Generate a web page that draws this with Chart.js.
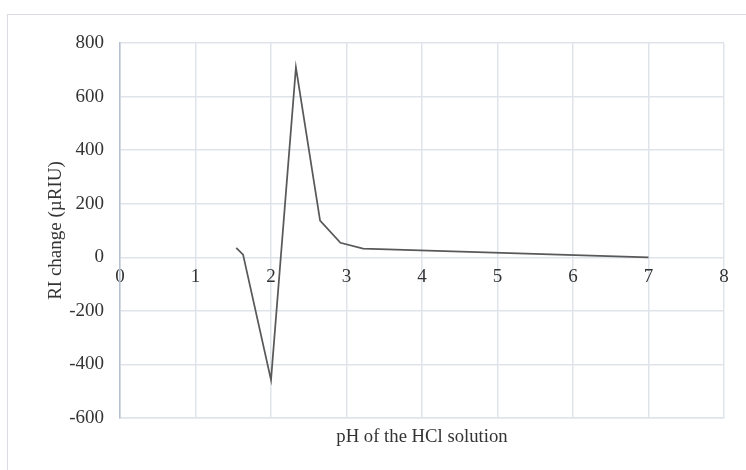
<!DOCTYPE html>
<html>
<head>
<meta charset="utf-8">
<script src="https://cdn.jsdelivr.net/npm/chart.js@4"></script>
<style>
  html, body { margin: 0; padding: 0; background: #fff; }
  #wrap { width: 746px; height: 470px; }
</style>
</head>
<body>
<div id="wrap"><canvas id="riChart" width="746" height="470"></canvas></div>
<script>
// values
const phValues = [1.54, 1.63, 2.0, 2.33, 2.65, 2.92, 3.22, 7.0]
const riChange = [35, 10, -458, 709, 137, 54, 32, 0]
const xTicks = [0, 1, 2, 3, 4, 5, 6, 7, 8]
const yTicks = [-600, -400, -200, 0, 200, 400, 600, 800]

const serif = '"Liberation Serif", "Times New Roman", serif'
const gridCol = '#dfe3ea'
const textCol = '#333333'

const points = phValues.map((ph, i) => ({ x: ph, y: riChange[i] }))

// light frame of the chart area, like the office chart border
const frame = {
  id: 'frame',
  beforeDraw(chart) {
    const ctx = chart.ctx
    ctx.save()
    ctx.fillStyle = '#fff'
    ctx.fillRect(0, 0, chart.width, chart.height)
    ctx.strokeStyle = '#dadde2'
    ctx.lineWidth = 1
    ctx.strokeRect(7.5, 14.5, chart.width + 20, chart.height + 20)
    ctx.restore()
  }
}

new Chart(document.getElementById('riChart'), {
  type: 'scatter',
  data: {
    datasets: [{
      label: 'RI change',
      data: points,
      showLine: true,
      borderColor: '#595959',
      borderWidth: 1.75,
      pointRadius: 0,
      tension: 0
    }]
  },
  options: {
    responsive: false,
    animation: false,
    layout: { padding: { left: 45, top: 43, right: 22, bottom: 22 } },
    plugins: {
      legend: { display: false },
      tooltip: { enabled: false }
    },
    scales: {
      x: {
        type: 'linear',
        min: xTicks[0],
        max: xTicks[xTicks.length - 1],
        afterBuildTicks: s => { s.ticks = xTicks.map(v => ({ value: v })) },
        afterFit: s => { s.height = 30 },
        grid: { color: gridCol, lineWidth: 1.5, drawTicks: false },
        border: { color: gridCol, width: 1.5 },
        ticks: { display: false },
        title: {
          display: true,
          text: 'pH of the HCl solution',
          color: textCol,
          font: { family: serif, size: 18.7 },
          padding: 0
        }
      },
      // tick labels sitting on the zero line
      x2: {
        type: 'linear',
        axis: 'x',
        position: { y: 0 },
        min: xTicks[0],
        max: xTicks[xTicks.length - 1],
        afterBuildTicks: s => { s.ticks = xTicks.map(v => ({ value: v })) },
        afterFit: s => { s.height = 0 },
        grid: { display: false, drawTicks: false },
        border: { display: false },
        ticks: {
          color: textCol,
          font: { family: serif, size: 19 },
          padding: 8,
          maxRotation: 0,
          autoSkip: false
        }
      },
      y: {
        min: yTicks[0],
        max: yTicks[yTicks.length - 1],
        afterBuildTicks: s => { s.ticks = yTicks.map(v => ({ value: v })) },
        afterFit: s => { s.width = 75 },
        grid: { color: gridCol, lineWidth: 1.5, drawTicks: false },
        border: { color: '#b5c0d0', width: 1.5 },
        ticks: {
          color: textCol,
          font: { family: serif, size: 19 },
          padding: 16
        },
        title: {
          display: true,
          text: 'RI change (µRIU)',
          color: textCol,
          font: { family: serif, size: 19 },
          padding: 0
        }
      }
    }
  },
  plugins: [frame]
})
</script>
</body>
</html>
